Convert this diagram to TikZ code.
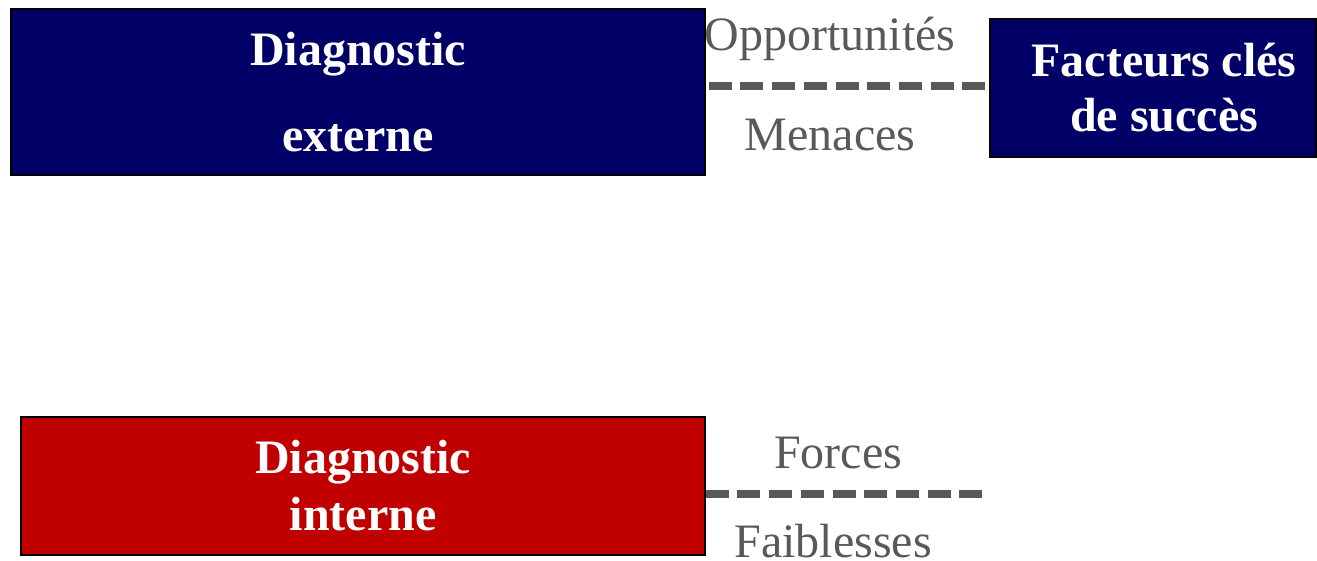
\documentclass[tikz,border=0pt]{standalone}
\usepackage{fontspec}
\setmainfont{Liberation Serif}
\definecolor{navy}{RGB}{0,0,102}
\definecolor{darkred}{RGB}{192,0,0}
\definecolor{labelgray}{RGB}{89,89,89}
\tikzset{
  box/.style={draw=black, line width=1.5pt, inner sep=0pt, text=white, align=center,
    font=\bfseries\fontsize{48}{86}\selectfont},
  lbl/.style={anchor=base, inner sep=0pt, text=labelgray, font=\fontsize{48}{56}\selectfont},
  dashline/.style={draw=labelgray, line width=8pt, dash pattern=on 23pt off 8.7pt}
}
\begin{document}
\begin{tikzpicture}[x=1pt,y=-1pt]
\useasboundingbox (0,0) rectangle (1317,560);
\node[box, fill=navy, minimum width=694pt, minimum height=166pt] (ext) at (358,92)
  {Diagnostic\\externe};
\node[box, fill=navy, minimum width=326pt, minimum height=138pt,
  font=\bfseries\fontsize{48}{55}\selectfont] (fcs) at (1153,88)
  {\hspace*{22pt}Facteurs clés\\\hspace*{22pt}de succès};
\node[box, fill=darkred, minimum width=684pt, minimum height=138pt,
  font=\bfseries\fontsize{48}{57}\selectfont] (int) at (363,486)
  {Diagnostic\\interne};
\node[lbl] (opp) at (830,50) {Opportunités};
\node[lbl] (men) at (830,150) {Menaces};
\node[lbl] (for) at (838,468) {Forces};
\node[lbl] (fai) at (833,557) {Faiblesses};
\coordinate (fe) at (983,494);
\draw[dashline] ([xshift=3pt]ext.east |- 0,86) -- (fcs.west |- 0,86);
\draw[dashline] (int.east |- fe) -- (fe);
\end{tikzpicture}
\end{document}
